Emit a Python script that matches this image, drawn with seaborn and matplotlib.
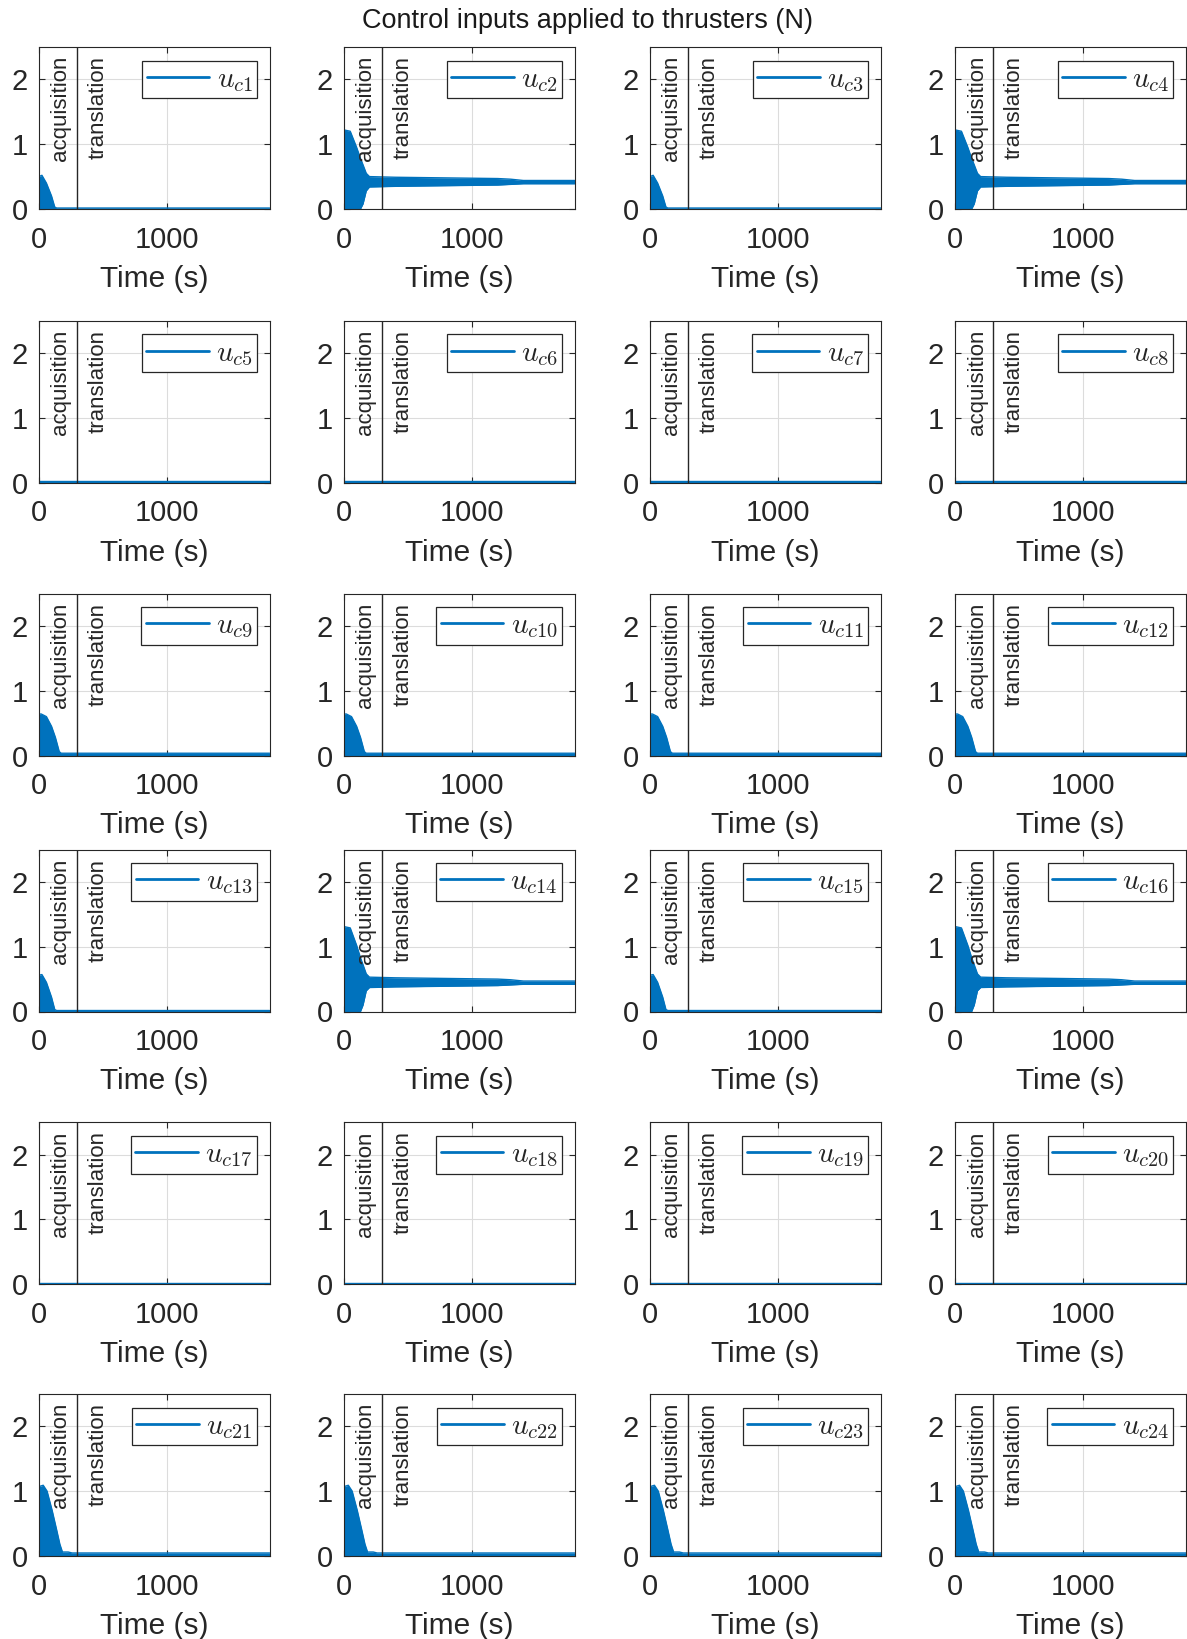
import numpy as np
import pandas as pd
import matplotlib
matplotlib.use("Agg")
import matplotlib.pyplot as plt
import seaborn as sns

# ---------------- data ----------------
TITLE = "Control inputs applied to thrusters (N)"
XLABEL = "Time (s)"
PHASE_LABELS = ["acquisition", "translation"]
PHASE_LABEL_X = [172, 462]
PHASE_SWITCH_T = 300
XTICKS = [0, 1000]
YTICKS = [0, 1, 2]
XLIM = (0, 1800)
YLIM = (0, 2.5)

thruster_labels = [r"$u_{c%d}$" % i for i in range(1, 25)]
# envelope profile used by each thruster
thruster_profile = ["A", "B", "A", "B",
                    "C", "C", "C", "C",
                    "D", "D", "D", "D",
                    "E", "F", "E", "F",
                    "C", "C", "C", "C",
                    "G", "G", "G", "G"]

# profile A: short decaying burst (uc1, uc3)
env_A_t = [0, 2, 25, 60, 100, 125, 140, 400, 1000, 1800]
env_A_hi = [0.45, 0.50, 0.52, 0.40, 0.20, 0.03, 0.015, 0.015, 0.015, 0.015]
env_A_lo = [0, 0, 0, 0, 0, 0, 0, 0, 0, 0]

# profile E: slightly larger burst (uc13, uc15)
env_E_t = [0, 2, 25, 60, 100, 125, 140, 400, 1000, 1800]
env_E_hi = [0.50, 0.56, 0.57, 0.45, 0.22, 0.03, 0.015, 0.015, 0.015, 0.015]
env_E_lo = [0, 0, 0, 0, 0, 0, 0, 0, 0, 0]

# profile B: large burst then steady band (uc2, uc4)
env_B_t = [0, 2, 50, 100, 130, 150, 175, 200, 400, 800, 1200, 1300, 1400, 1800]
env_B_hi = [1.18, 1.22, 1.20, 0.95, 0.78, 0.68, 0.55, 0.50, 0.49, 0.48, 0.47, 0.46, 0.44, 0.44]
env_B_lo = [0, 0, 0, 0, 0, 0.08, 0.28, 0.34, 0.35, 0.36, 0.37, 0.38, 0.39, 0.39]

# profile F: large burst then steady band (uc14, uc16)
env_F_t = [0, 2, 50, 100, 130, 150, 175, 200, 400, 800, 1200, 1300, 1400, 1800]
env_F_hi = [1.28, 1.31, 1.29, 1.02, 0.83, 0.72, 0.58, 0.53, 0.52, 0.51, 0.50, 0.49, 0.47, 0.47]
env_F_lo = [0, 0, 0, 0, 0, 0.10, 0.32, 0.37, 0.38, 0.39, 0.40, 0.41, 0.42, 0.42]

# profile C: almost zero (uc5-8, uc17-20)
env_C_t = [0, 1800]
env_C_hi = [0.025, 0.025]
env_C_lo = [0, 0]

# profile D: medium burst, small ripple after (uc9-12)
env_D_t = [0, 2, 20, 60, 100, 130, 160, 175, 300, 1800]
env_D_hi = [0.60, 0.64, 0.64, 0.60, 0.45, 0.28, 0.06, 0.035, 0.035, 0.035]
env_D_lo = [0, 0, 0, 0, 0, 0, 0, 0, 0, 0]

# profile G: big burst, small ripple after (uc21-24)
env_G_t = [0, 3, 35, 65, 105, 140, 165, 185, 200, 230, 260, 1800]
env_G_hi = [1.00, 1.07, 1.09, 1.00, 0.70, 0.40, 0.18, 0.06, 0.06, 0.06, 0.045, 0.045]
env_G_lo = [0, 0, 0, 0, 0, 0, 0, 0, 0, 0, 0, 0]

profiles = {
    "A": (env_A_t, env_A_hi, env_A_lo),
    "B": (env_B_t, env_B_hi, env_B_lo),
    "C": (env_C_t, env_C_hi, env_C_lo),
    "D": (env_D_t, env_D_hi, env_D_lo),
    "E": (env_E_t, env_E_hi, env_E_lo),
    "F": (env_F_t, env_F_hi, env_F_lo),
    "G": (env_G_t, env_G_hi, env_G_lo),
}

# ---------------- style ----------------
sns.set_theme(style="ticks")
DARK = "#262626"
BLUE = "#0072BD"
plt.rcParams.update({
    "font.family": ["Liberation Sans", "DejaVu Sans"],
    "mathtext.fontset": "cm",
    "axes.edgecolor": DARK,
    "axes.labelcolor": DARK,
    "xtick.color": DARK,
    "ytick.color": DARK,
    "text.color": DARK,
    "axes.linewidth": 0.8,
})

W, H = 1187, 1639
fig = plt.figure(figsize=(W / 100, H / 100), dpi=100)

col_left = [38.7, 343.8, 649.9, 955.0]
row_top = [47.0, 320.8, 593.5, 849.5, 1122.2, 1393.9]
AX_W, AX_H = 230.9, 162.0

for idx in range(24):
    r, c = divmod(idx, 4)
    left = col_left[c]
    top = row_top[r]
    ax = fig.add_axes([left / W, 1 - (top + AX_H) / H, AX_W / W, AX_H / H])
    t, hi, lo = profiles[thruster_profile[idx]]
    df = pd.DataFrame({"t": t, "hi": hi, "lo": lo})
    ax.fill_between(df["t"], df["lo"], df["hi"], color=BLUE, lw=0)
    sns.lineplot(data=df, x="t", y="hi", ax=ax, color=BLUE, lw=1.0,
                 label=thruster_labels[idx])
    sns.lineplot(data=df, x="t", y="lo", ax=ax, color=BLUE, lw=1.0)
    ax.axvline(PHASE_SWITCH_T, color=DARK, lw=1.0)
    for lab, xpos in zip(PHASE_LABELS, PHASE_LABEL_X):
        ax.text(xpos, 2.36, lab, rotation=90, ha="center", va="top",
                fontsize=16, color=DARK)
    ax.set_xlim(*XLIM)
    ax.set_ylim(*YLIM)
    ax.set_xticks(XTICKS)
    ax.set_yticks(YTICKS)
    ax.grid(True, color="#dcdcdc", lw=0.8)
    ax.tick_params(direction="in", length=4, width=0.8, top=True, right=True,
                   labelsize=21)
    ax.tick_params(axis="x", pad=12)
    ax.tick_params(axis="y", pad=8)
    ax.set_xlabel(XLABEL, fontsize=21.5, labelpad=8)
    ax.set_ylabel("")
    for s in ax.spines.values():
        s.set_visible(True)
        s.set_color(DARK)
    leg = ax.legend(loc="upper right",
                    bbox_to_anchor=(1 - 12.5 / AX_W, 1 - 13.6 / AX_H),
                    borderaxespad=0, fontsize=21, frameon=True,
                    fancybox=False, framealpha=1, edgecolor=DARK,
                    handlelength=2.15, handletextpad=0.25, borderpad=0.15)
    leg.get_frame().set_linewidth(0.9)
    for ln in leg.get_lines():
        ln.set_linewidth(2.0)

fig.text(588 / W, 1 - 21 / H, TITLE, ha="center", va="center", fontsize=19.5,
         color="#1a1a1a")

fig.savefig("out.png", dpi=100)
